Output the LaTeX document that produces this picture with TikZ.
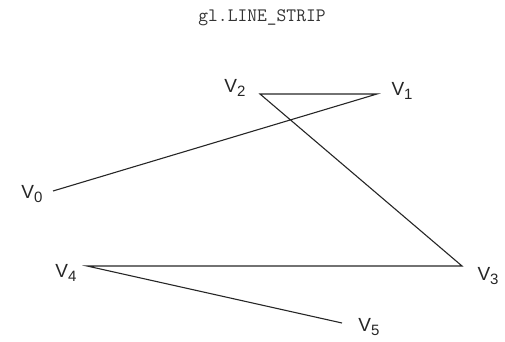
\documentclass[tikz,border=0pt]{standalone}
\usepackage{fontspec}
\setmainfont{Liberation Sans}
\newcommand\vlab[1]{V\raisebox{-0.45ex}{\fontsize{15}{15}\selectfont #1}}
\begin{document}
\begin{tikzpicture}[x=1pt,y=1pt,
  edge/.style={draw=black!85,line width=1.1pt},
  vlabel/.style={font=\fontsize{19}{19}\selectfont,inner sep=0pt,text=black!85}]
\useasboundingbox (0,0) rectangle (505,342);
\node[font=\ttfamily\fontsize{19}{19}\selectfont,text=black!80] (title) at (262,324) {gl.LINE\_STRIP};
\coordinate (p0) at (53,151);
\coordinate (p1) at (377,248);
\coordinate (p2) at (260,248);
\coordinate (p3) at (462,76);
\coordinate (p4) at (87,76);
\coordinate (p5) at (342,19);
\draw[edge] (p0) -- (p1) -- (p2) -- (p3) -- (p4) -- (p5);
\node[vlabel] (l0) at (32,148) {\vlab{0}};
\node[vlabel] (l1) at (402,251) {\vlab{1}};
\node[vlabel] (l2) at (235,254) {\vlab{2}};
\node[vlabel] (l3) at (488,66) {\vlab{3}};
\node[vlabel] (l4) at (66,69) {\vlab{4}};
\node[vlabel] (l5) at (369,15) {\vlab{5}};
\end{tikzpicture}
\end{document}
